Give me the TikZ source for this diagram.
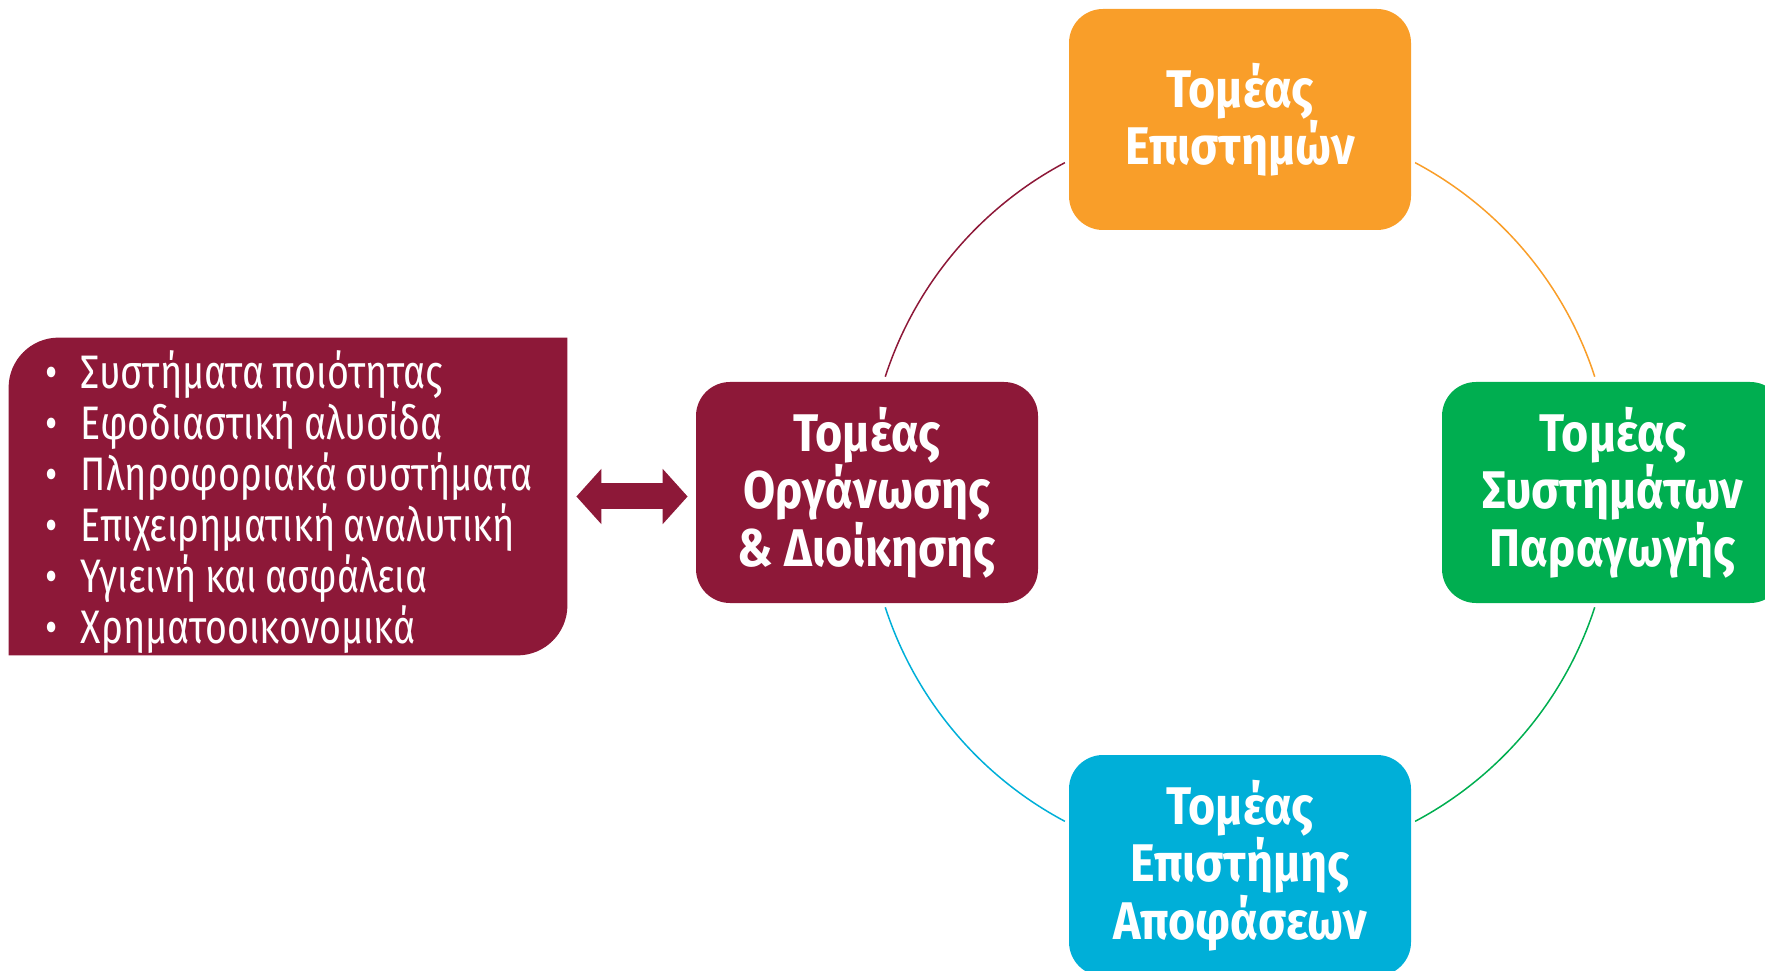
\documentclass[tikz,border=0pt]{standalone}
\usepackage{fontspec}
\setmainfont{Fira Sans}[FakeStretch=0.88]
\newfontfamily\listfont{Fira Sans}[FakeStretch=0.80, WordSpace=0.85]
\usetikzlibrary{arrows.meta}
\definecolor{cmaroon}{HTML}{8D1838}
\definecolor{corange}{HTML}{F99E29}
\definecolor{cgreen}{HTML}{00AE50}
\definecolor{cblue}{HTML}{00AFD8}
\tikzset{
  sector/.style={rounded corners=17pt, minimum width=171pt, minimum height=110.5pt,
    inner sep=0pt, align=center, text=white,
    font=\bfseries\fontsize{26.5pt}{28.7pt}\selectfont},
  ring/.style={line width=0.75pt},
  listtext/.style={font=\listfont\fontsize{23.5pt}{25.5pt}\selectfont, text=white,
    inner sep=0pt, align=left},
}
\begin{document}
\begin{tikzpicture}[x=0.5pt,y=0.5pt]
\clip (0,0) rectangle (1765,970);
% list box
\node[minimum width=279pt, minimum height=158.5pt, inner sep=0pt] (list) at (288,473.5) {};
\fill[cmaroon] (list.south west) -- ([yshift=-25pt]list.north west)
  arc[start angle=180, end angle=90, radius=50] -- (list.north east)
  -- ([yshift=25pt]list.south east) arc[start angle=0, end angle=-90, radius=50] -- cycle;
\node[listtext, anchor=west] (items) at ([xshift=18pt,yshift=-2.7pt]list.west)
  {\makebox[18pt][l]{•}Συστήματα ποιότητας\\
   \makebox[18pt][l]{•}Εφοδιαστική αλυσίδα\\
   \makebox[18pt][l]{•}Πληροφοριακά συστήματα\\
   \makebox[18pt][l]{•}Επιχειρηματική αναλυτική\\
   \makebox[18pt][l]{•}Υγιεινή και ασφάλεια\\
   \makebox[18pt][l]{•}Χρηματοοικονομικά};
% sector boxes
\node[sector, fill=cmaroon] (org) at (867,477.5) {Τομέας\\Οργάνωσης\\\& Διοίκησης};
\node[sector, fill=corange] (top) at (1240,850.5) {Τομέας\\Επιστημών};
\node[sector, fill=cgreen] (right) at (1613,477.5) {Τομέας\\Συστημάτων\\Παραγωγής};
\node[sector, fill=cblue] (bottom) at (1240,104.5) {Τομέας\\Επιστήμης\\Αποφάσεων};
% double arrow
\draw[cmaroon, line width=13pt, shorten <=4.5pt, shorten >=4pt,
  {Triangle[length=12.5pt,width=27pt]}-{Triangle[length=12.5pt,width=27pt]}]
  (list.east) -- (list.east -| org.west);
% ring arcs
\coordinate (c) at (1240,478);
\draw[ring, cmaroon] ([shift={(118:373)}]c) arc[start angle=118, end angle=162, radius=373];
\draw[ring, corange] ([shift={(62:373)}]c) arc[start angle=62, end angle=18, radius=373];
\draw[ring, cgreen] ([shift={(-18:373)}]c) arc[start angle=-18, end angle=-62, radius=373];
\draw[ring, cblue] ([shift={(-118:373)}]c) arc[start angle=-118, end angle=-162, radius=373];
\end{tikzpicture}
\end{document}
